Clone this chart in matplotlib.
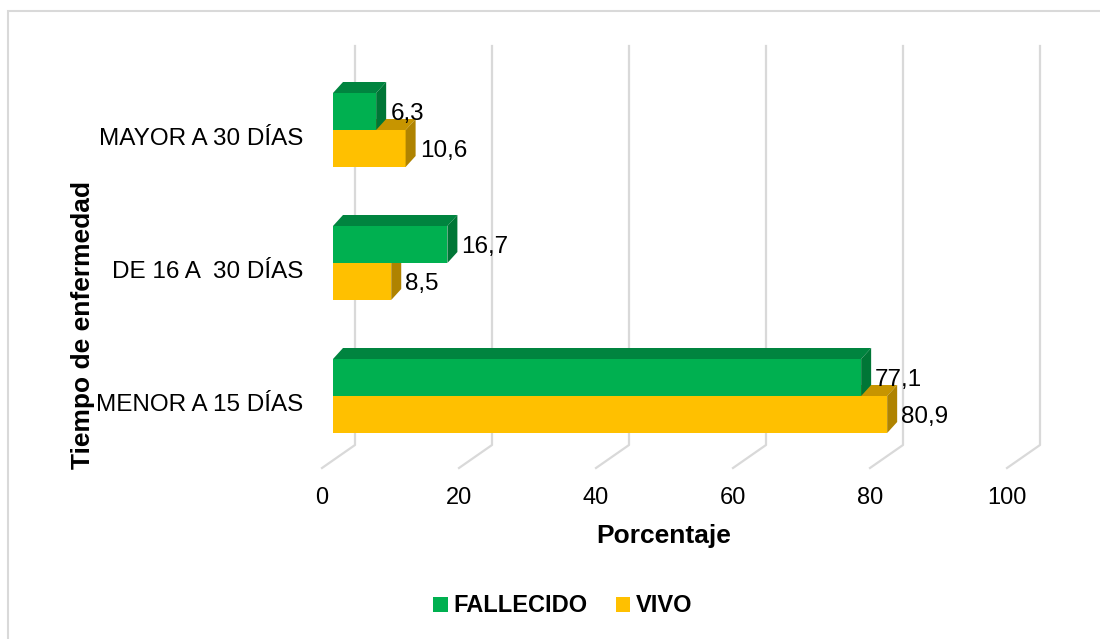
import matplotlib
matplotlib.use("Agg")
import matplotlib.pyplot as plt
from matplotlib.patches import Polygon, Rectangle, Patch

plt.rcParams['font.family'] = ['Liberation Sans', 'DejaVu Sans']

# datos
categorias = ["MENOR A 15 DÍAS", "DE 16 A  30 DÍAS", "MAYOR A 30 DÍAS"]
fallecido = [77.1, 16.7, 6.3]
vivo = [80.9, 8.5, 10.6]
xticks = [0, 20, 40, 60, 80, 100]

# colores (frente, arriba, lado)
c_fall = ("#00B050", "#00843F", "#007636")
c_vivo = ("#FFC000", "#C79500", "#AF8300")

fig = plt.figure(figsize=(11, 6.39), dpi=100)
px_x = 6.85          # pixeles por unidad en x
px_y = 133.0         # pixeles por categoria
left_px, right_px = 300, 1060
top_px, bot_px = 40, 480
x0_px, y0_px = 333, 396
ax = fig.add_axes([left_px / 1100, 1 - bot_px / 639,
                   (right_px - left_px) / 1100, (bot_px - top_px) / 639])
ax.set_xlim((left_px - x0_px) / px_x, (right_px - x0_px) / px_x)
ax.set_ylim((y0_px - bot_px) / px_y, (y0_px - top_px) / px_y)
ax.axis('off')

# borde de la figura
fig.patches.append(Rectangle((8 / 1100, -0.1), 1.2, 1 - 11 / 639 + 0.1,
                             transform=fig.transFigure, fill=False,
                             edgecolor="#D9D9D9", linewidth=1.5))

dx, dy = 10 / px_x, 11 / px_y          # profundidad de la barra
wall_dx = 22 / px_x                     # pared del fondo
front_dx = -11 / px_x
floor_back = -49 / px_y
floor_front = -72 / px_y
grid_top = 350 / px_y
h = 37 / px_y

# cuadricula 3D
for t in xticks:
    ax.plot([t + wall_dx, t + wall_dx, t + front_dx],
            [grid_top, floor_back, floor_front],
            color="#D9D9D9", lw=1.6, zorder=1, clip_on=False)
    ax.text(t + front_dx, -102 / px_y, str(t), ha='center', va='center',
            fontsize=17, color="#000000")


def barra3d(y, val, cols):
    front, top, side = cols
    y_bot, y_top = y - h / 2, y + h / 2
    ax.barh(y, val, height=h, left=0, color=front, zorder=3)
    ax.add_patch(Polygon([(0, y_top), (dx, y_top + dy), (val + dx, y_top + dy), (val, y_top)],
                         closed=True, facecolor=top, edgecolor='none', zorder=3))
    ax.add_patch(Polygon([(val, y_bot), (val + dx, y_bot + dy), (val + dx, y_top + dy), (val, y_top)],
                         closed=True, facecolor=side, edgecolor='none', zorder=3))


for i, cat in enumerate(categorias):
    yv = i - h / 2
    yf = i + h / 2
    barra3d(yv, vivo[i], c_vivo)
    barra3d(yf, fallecido[i], c_fall)
    ax.text(fallecido[i] + dx + 0.6, yf - 0.02, f"{fallecido[i]:.1f}".replace('.', ','),
            ha='left', va='center', fontsize=17.5, zorder=5)
    ax.text(vivo[i] + dx + 0.6, yv - 0.02, f"{vivo[i]:.1f}".replace('.', ','),
            ha='left', va='center', fontsize=17.5, zorder=5)
    ax.text(-30 / px_x, i - 0.07, cat, ha='right', va='center', fontsize=17.5)

fig.text(664 / 1100, 1 - 536 / 639, "Porcentaje", ha='center', va='center',
         fontsize=19, fontweight='bold')
fig.text(83 / 1100, 1 - 325 / 639, "Tiempo de enfermedad", ha='center', va='center',
         rotation=90, fontsize=19, fontweight='bold')

handles = [Patch(facecolor=c_fall[0], label="FALLECIDO"),
           Patch(facecolor=c_vivo[0], label="VIVO")]
fig.legend(handles=handles, loc='center', bbox_to_anchor=(563 / 1100, 1 - 606 / 639),
           ncol=2, frameon=False, handlelength=0.6, handleheight=0.6, handletextpad=0.25,
           columnspacing=1.2, prop={'weight': 'bold', 'size': 17})

fig.savefig("out.png", dpi=100)
